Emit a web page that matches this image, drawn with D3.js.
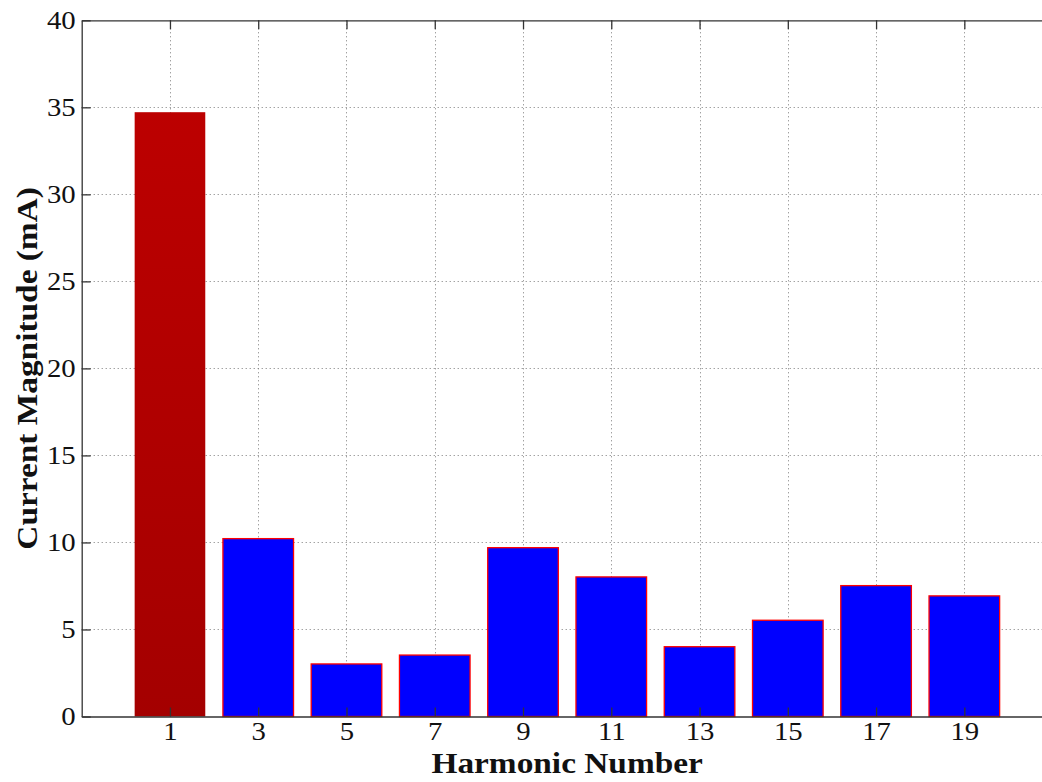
<!DOCTYPE html>
<html>
<head>
<meta charset="utf-8">
<script src="https://cdn.jsdelivr.net/npm/d3@7"></script>
<style>
  html, body { margin: 0; padding: 0; background: #fff; }
  svg { display: block; }
  text { font-family: "Liberation Serif", "Times New Roman", serif; fill: #111; }
</style>
</head>
<body>
<svg id="chart" width="1042" height="782"></svg>
<script>
// Harmonic spectrum of the measured current
const harmonics = [1, 3, 5, 7, 9, 11, 13, 15, 17, 19];
const magnitudes = [34.72, 10.22, 3.02, 3.53, 9.70, 8.02, 4.01, 5.53, 7.52, 6.93];
const yTicks = [0, 5, 10, 15, 20, 25, 30, 35, 40];
const xLabel = "Harmonic Number";
const yLabel = "Current Magnitude (mA)";

const svg = d3.select("#chart");
const plot = { left: 81.7, right: 1052.6, top: 20.3, bottom: 716.5 };
const wide = 1.15; // horizontal stretch of the serif glyphs

const x = d3.scaleLinear().domain([-1, 21]).range([plot.left, plot.right]);
const y = d3.scaleLinear().domain([0, 40]).range([plot.bottom, plot.top]);

// gradient for the fundamental bar
const defs = svg.append("defs");
const grad = defs.append("linearGradient")
  .attr("id", "fund").attr("x1", 0).attr("y1", 0).attr("x2", 0).attr("y2", 1);
grad.append("stop").attr("offset", "0%").attr("stop-color", "#bc0000");
grad.append("stop").attr("offset", "100%").attr("stop-color", "#a40000");

// dotted grid
const grid = svg.append("g").attr("stroke", "#7a7a7a").attr("stroke-width", 1)
  .attr("stroke-dasharray", "1,3");
grid.selectAll("line.h").data(yTicks.filter(d => d > 0 && d < 40)).join("line")
  .attr("class", "h")
  .attr("x1", plot.left).attr("x2", plot.right)
  .attr("y1", d => Math.round(y(d)) + 0.5).attr("y2", d => Math.round(y(d)) + 0.5);
grid.selectAll("line.v").data(harmonics).join("line")
  .attr("class", "v")
  .attr("y1", plot.top).attr("y2", plot.bottom)
  .attr("x1", d => Math.round(x(d)) + 0.5).attr("x2", d => Math.round(x(d)) + 0.5);

// bars
const barW = x(1.6) - x(0);
const bars = harmonics.map((h, i) => ({h, v: magnitudes[i], i}));
svg.append("g").selectAll("rect").data(bars)
  .join("rect")
  .attr("x", d => x(d.h) - barW / 2)
  .attr("width", barW)
  .attr("y", d => y(d.v))
  .attr("height", d => y(0) - y(d.v))
  .attr("fill", d => d.i === 0 ? "url(#fund)" : "#0000ff")
  .attr("stroke", d => d.i === 0 ? "none" : "#ff0000")
  .attr("stroke-width", 1.3);

// axes
const axisColor = "#333";
const xAxis = svg.append("g").attr("transform", `translate(0,${plot.bottom})`)
  .call(d3.axisBottom(x).tickValues(harmonics).tickSizeInner(-9).tickSizeOuter(0).tickPadding(19));
const yAxis = svg.append("g").attr("transform", `translate(${plot.left},0)`)
  .call(d3.axisLeft(y).tickValues(yTicks).tickSizeInner(-9).tickSizeOuter(0).tickPadding(8));
const xTop = svg.append("g").attr("transform", `translate(0,${plot.top})`)
  .call(d3.axisTop(x).tickValues(harmonics).tickSizeInner(-9).tickSizeOuter(0).tickFormat(""));

[xAxis, yAxis, xTop].forEach(g => {
  g.select(".domain").attr("stroke", axisColor).attr("stroke-width", 1.3);
  g.selectAll(".tick line").attr("stroke", axisColor).attr("stroke-width", 1.3);
  g.selectAll(".tick text")
    .style("font-family", '"Liberation Serif", "Times New Roman", serif')
    .attr("font-size", 25).attr("fill", "#111")
    .attr("transform", `scale(${wide},1)`);
});
yAxis.selectAll(".tick text").attr("x", -6 / wide);
xAxis.selectAll(".tick text").attr("dy", "0.2em");

// axis titles
svg.append("text")
  .attr("transform", `translate(${(plot.left + plot.right) / 2},773) scale(${wide},1)`)
  .attr("text-anchor", "middle")
  .attr("font-size", 29).attr("font-weight", "bold")
  .text(xLabel);
svg.append("text")
  .attr("transform", `translate(37,${(plot.top + plot.bottom) / 2}) rotate(-90) scale(${wide},1)`)
  .attr("text-anchor", "middle")
  .attr("font-size", 29).attr("font-weight", "bold")
  .text(yLabel);
</script>
</body>
</html>
